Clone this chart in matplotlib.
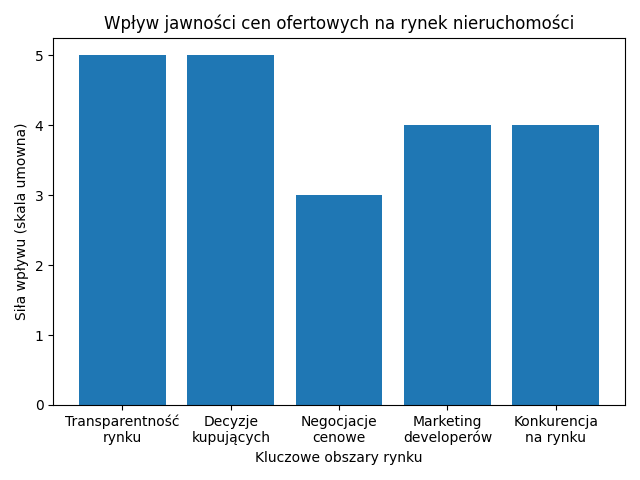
import matplotlib
matplotlib.use("Agg")
import matplotlib.pyplot as plt

categories = ["Transparentność\nrynku", "Decyzje\nkupujących", "Negocjacje\ncenowe",
              "Marketing\ndeveloperów", "Konkurencja\nna rynku"]
values = [5, 5, 3, 4, 4]

fig, ax = plt.subplots(figsize=(6.4, 4.8), dpi=100)
ax.bar(categories, values, color="#1f77b4")
ax.set_title("Wpływ jawności cen ofertowych na rynek nieruchomości")
ax.set_xlabel("Kluczowe obszary rynku")
ax.set_ylabel("Siła wpływu (skala umowna)")
fig.tight_layout()
fig.savefig("out.png")
